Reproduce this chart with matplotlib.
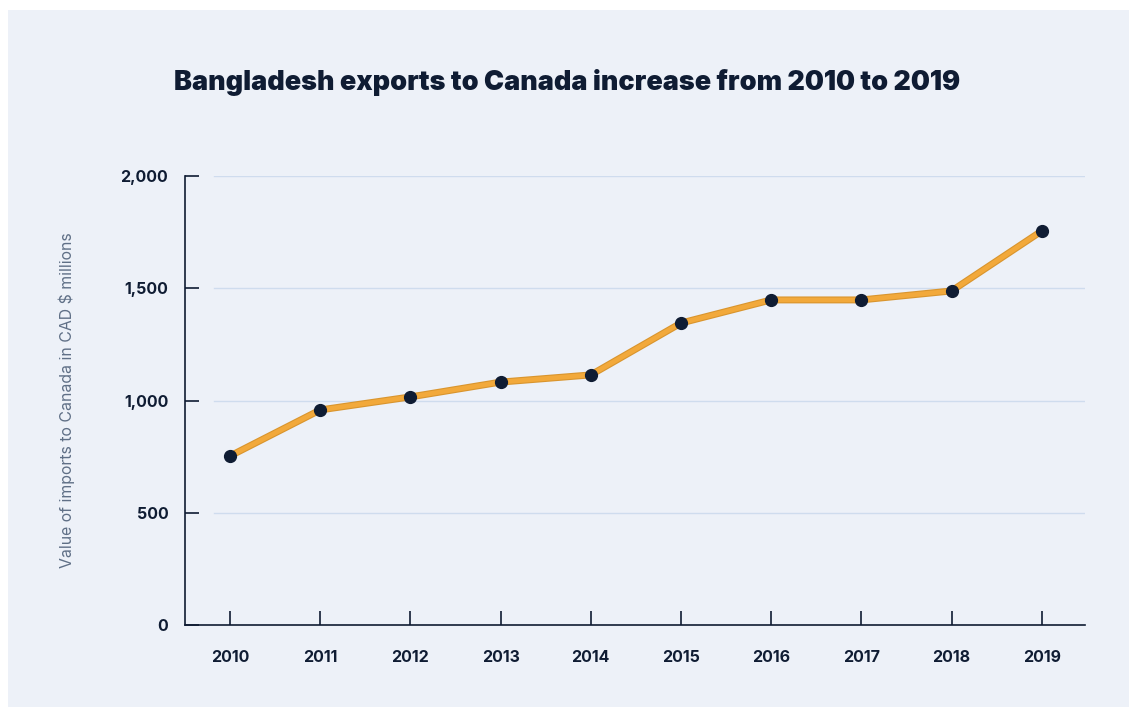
import matplotlib
matplotlib.use('Agg')
import matplotlib.pyplot as plt
from matplotlib.patches import Rectangle

years = [2010, 2011, 2012, 2013, 2014, 2015, 2016, 2017, 2018, 2019]
values = [753, 958, 1016, 1082, 1114, 1345, 1448, 1448, 1488, 1755]
yticks = [0, 500, 1000, 1500, 2000]
ytick_labels = ['0', '500', '1,000', '1,500', '2,000']

BG = '#edf1f8'
NAVY = '#0f1c33'
ORANGE = '#f2a93b'
GRID = '#cfdcee'

W, H = 1129, 707
fig = plt.figure(figsize=(W / 100., H / 100.), dpi=100)
fig.patch.set_facecolor('white')
fig.patches.append(Rectangle((8 / W, 0), 1, 1 - 10 / H, transform=fig.transFigure,
                             facecolor=BG, edgecolor='none', zorder=-10))

# axes box: x 185..1085, y 176..625 (pixels from top)
ax = fig.add_axes([185 / W, 1 - 625 / H, 900 / W, 449 / H])
ax.set_facecolor(BG)
ax.patch.set_alpha(0)

for y in yticks[1:]:
    ax.axhline(y, xmin=(214 - 185) / 900., xmax=1, color=GRID, lw=1, zorder=1)

ax.plot(years, values, color='#d9952e', lw=5, solid_capstyle='round', zorder=2)
ax.plot(years, values, color=ORANGE, lw=3.4, solid_capstyle='round', zorder=3)
ax.plot(years, values, 'o', color=NAVY, ms=8.5, zorder=4)

ax.set_xlim(2009.5, 2019.48)
ax.set_ylim(0, 2000)
ax.set_xticks(years)
ax.set_xticklabels([str(y) for y in years])
ax.set_yticks(yticks)
ax.set_yticklabels(ytick_labels)

for s in ['top', 'right']:
    ax.spines[s].set_visible(False)
for s in ['left', 'bottom']:
    ax.spines[s].set_color(NAVY)
    ax.spines[s].set_linewidth(1.2)

ax.tick_params(axis='both', direction='in', length=10, width=1.2, color=NAVY,
               labelcolor=NAVY, labelsize=11.5)
ax.tick_params(axis='x', pad=18)
ax.tick_params(axis='y', pad=12)
for lab in ax.get_xticklabels() + ax.get_yticklabels():
    lab.set_fontweight('bold')
    lab.set_family('Inter')

ax.set_ylabel('Value of imports to Canada in CAD $ millions', fontsize=11.4,
              color='#5f6f86', family='Inter')
ax.yaxis.set_label_coords(-(185 - 75) / 900., 0.5)

fig.text(567 / W, 1 - 82 / H, 'Bangladesh exports to Canada increase from 2010 to 2019',
         ha='center', va='center', fontsize=19.4, fontweight='black', color=NAVY,
         family='Inter')

plt.savefig('out.png', dpi=100, facecolor=fig.get_facecolor())
